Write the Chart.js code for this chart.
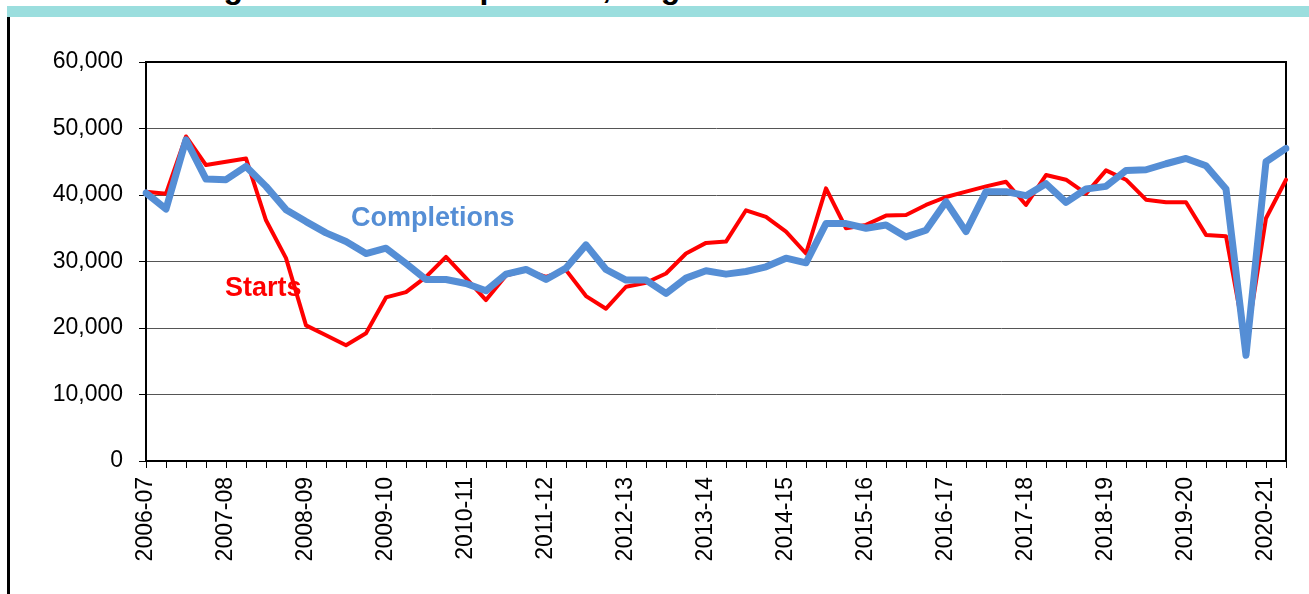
<!DOCTYPE html>
<html>
<head>
<meta charset="utf-8">
<script src="https://cdn.jsdelivr.net/npm/chart.js@4"></script>
<style>
  body { margin: 0; background: #fff; overflow: hidden; font-family: "Liberation Sans", Arial, sans-serif; }
  #wrap { position: relative; width: 1309px; height: 594px; overflow: hidden; }
  #title { position: absolute; left: 115px; top: -29px; font-size: 32px; line-height: 32px; font-weight: bold; white-space: nowrap; color: #000; }
  #band { position: absolute; left: 7px; top: 6px; width: 1302px; height: 11px; background: #9bdede; }
  #rule { position: absolute; left: 7px; top: 17px; width: 3px; height: 577px; background: #000; }
  canvas { position: absolute; left: 0; top: 0; }
  .lab { position: absolute; font-size: 27px; line-height: 27px; font-weight: bold; white-space: nowrap; }
</style>
</head>
<body>
<div id="wrap">
  <div id="title">Housing starts and completions, England</div>
  <div id="band"></div>
  <div id="rule"></div>
  <canvas id="chart" width="1309" height="594"></canvas>
  <div class="lab" style="left:351px; top:204px; color:#558ed5;">Completions</div>
  <div class="lab" style="left:225px; top:274px; color:#ff0000;">Starts</div>
</div>
<script>
var years = ['2006-07', '2007-08', '2008-09', '2009-10', '2010-11', '2011-12', '2012-13', '2013-14',
             '2014-15', '2015-16', '2016-17', '2017-18', '2018-19', '2019-20', '2020-21'];
var quarters = ['Q1', 'Q2', 'Q3', 'Q4'];

// quarterly dwellings started
var starts = [
    40500, 40200, 48800, 44500, 45000, 45500, 36200, 30500, 20400, 18900,
    17400, 19200, 24600, 25400, 27700, 30700, 27500, 24200, 27900, 28700,
    27700, 28700, 24800, 22900, 26200, 26800, 28200, 31200, 32800, 33000,
    37700, 36700, 34500, 31200, 41000, 35000, 35500, 36900, 37000, 38500,
    39700, 40500, 41300, 42000, 38500, 43000, 42300, 40200, 43700, 42300,
    39300, 38900, 38900, 34000, 33800, 17500, 36500, 42300
];

// quarterly dwellings completed
var completions = [
    40300, 37900, 48300, 42400, 42300, 44300, 41300, 37800, 36000, 34300,
    33000, 31200, 32000, 29700, 27300, 27300, 26700, 25600, 28100, 28800,
    27300, 29000, 32500, 28800, 27200, 27200, 25200, 27500, 28600, 28100,
    28500, 29200, 30500, 29800, 35700, 35700, 35000, 35500, 33700, 34700,
    39000, 34500, 40500, 40500, 39900, 41700, 38900, 40900, 41300, 43700,
    43800, 44700, 45500, 44400, 40900, 15900, 45000, 47000
];

var labels = [];
for (var i = 0; i < starts.length; i++) {
    labels.push(years[Math.floor(i / 4)] + ' ' + quarters[i % 4]);
}

var font = { family: '"Liberation Sans", Arial, sans-serif', size: 23 };

// black frame round the plot area
var frame = {
    id: 'frame',
    beforeDatasetsDraw: function(chart) {
        var a = chart.chartArea, c = chart.ctx;
        c.save();
        c.strokeStyle = '#000';
        c.lineWidth = 2;
        c.strokeRect(a.left, a.top, a.right - a.left, a.bottom - a.top);
        c.restore();
    }
};

new Chart(document.getElementById('chart'), {
    type: 'line',
    data: {
        labels: labels,
        datasets: [{
            label: 'Completions',
            data: completions,
            borderColor: '#558ed5',
            borderWidth: 7,
            order: 0
        }, {
            label: 'Starts',
            data: starts,
            borderColor: '#ff0000',
            borderWidth: 4,
            order: 1
        }]
    },
    options: {
        responsive: false,
        animation: false,
        devicePixelRatio: 1,
        layout: { padding: { top: 62, right: 23, left: 0, bottom: 0 } },
        elements: {
            point: { radius: 0, hoverRadius: 0 },
            line: { tension: 0, borderJoinStyle: 'round', borderCapStyle: 'round', fill: false }
        },
        plugins: {
            legend: { display: false },
            title: { display: false },
            tooltip: { enabled: false }
        },
        scales: {
            x: {
                offset: false,
                afterFit: function(scale) {
                    scale.height = 133;
                    scale.paddingLeft = 0;
                    scale.paddingRight = 0;
                },
                grid: { display: true, drawOnChartArea: false, drawTicks: true, tickLength: 7, color: '#000' },
                border: { display: true, color: '#000', width: 2 },
                ticks: {
                    autoSkip: false,
                    maxRotation: 90,
                    minRotation: 90,
                    padding: 9,
                    color: '#000',
                    font: font,
                    callback: function(value, index) {
                        return index % 4 === 0 ? years[index / 4] : '';
                    }
                }
            },
            y: {
                min: 0,
                max: 60000,
                afterFit: function(scale) { scale.width = 146; },
                grid: {
                    tickLength: 7,
                    tickColor: '#000',
                    lineWidth: 1,
                    color: function(ctx) { return ctx.tick && ctx.tick.value === 60000 ? '#000' : '#555'; }
                },
                border: { display: true, color: '#000', width: 2 },
                ticks: {
                    stepSize: 10000,
                    padding: 16,
                    color: '#000',
                    font: font,
                    callback: function(v) { return v.toLocaleString('en-US'); }
                }
            }
        }
    },
    plugins: [frame]
});
</script>
</body>
</html>
